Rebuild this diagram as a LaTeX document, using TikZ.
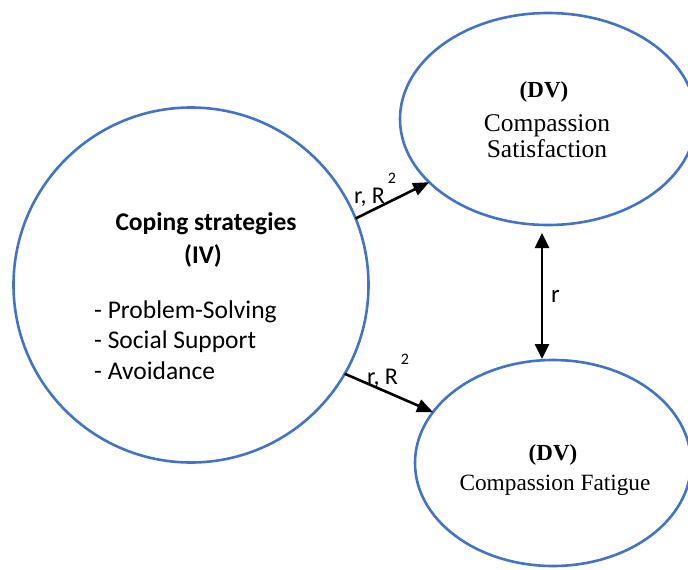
\documentclass[tikz,border=0pt]{standalone}
\usepackage{fontspec}
\setmainfont{Liberation Serif}
\newfontfamily\calib{Carlito}
\usetikzlibrary{shapes.geometric,arrows.meta}
\definecolor{ellblue}{RGB}{68,114,196}
\begin{document}
\begin{tikzpicture}[x=1pt,y=-1pt,
  var/.style={draw=ellblue,line width=2.6pt,ellipse,inner sep=0pt,outer sep=0pt},
  conn/.style={line width=2.6pt,-{Triangle[length=16pt,width=13pt]}},
  dconn/.style={line width=2.6pt,{Triangle[length=15pt,width=14pt]}-{Triangle[length=15pt,width=14pt]}},
  dvlab/.style={font=\fontsize{23}{26}\selectfont\bfseries,anchor=base,inner sep=0pt},
  serlab/.style={font=\fontsize{25.5}{28}\selectfont,anchor=base,inner sep=0pt},
  serlabb/.style={font=\fontsize{23.3}{26}\selectfont,anchor=base,inner sep=0pt},
  sanshead/.style={font=\calib\fontsize{25.5}{28}\selectfont\bfseries,anchor=base,inner sep=0pt},
  sanslist/.style={font=\calib\fontsize{25.5}{28}\selectfont,anchor=base west,inner sep=0pt},
  lab/.style={font=\calib\fontsize{24}{27}\selectfont,anchor=base west,inner sep=0pt}]
\path[use as bounding box,clip] (0,0) rectangle (688,570);
% variables
\node[var,minimum width=355pt,minimum height=355pt] (iv) at (191,285) {};
\node[var,minimum width=296pt,minimum height=212pt] (cs) at (548,119) {};
\node[var,minimum width=276pt,minimum height=206pt] (cf) at (553,463) {};
% texts
\node[dvlab] (csdv) at (544,97) {(DV)};
\node[serlab] (cs1) at (547,131) {Compassion};
\node[serlab] (cs2) at (547,157) {Satisfaction};
\node[dvlab] (cfdv) at (553,460) {(DV)};
\node[serlabb] (cf1) at (555,490) {Compassion Fatigue};
\node[sanshead] (ivh) at (206,230) {Coping strategies};
\node[sanshead] (ivt) at (203,263) {(IV)};
\node[sanslist] (ivl1) at (94,318) {- Problem-Solving};
\node[sanslist] (ivl2) at (94,348) {- Social Support};
\node[sanslist] (ivl3) at (94,379) {- Avoidance};
% connectors
\draw[conn] (iv.22) -- (cs.208);
\draw[conn] (iv.-30) -- (cf.157);
\draw[dconn] ([xshift=-6pt,yshift=-8pt]cs.south) -- ([xshift=-11pt,yshift=1pt]cf.north);
% labels
\node[lab] (l1) at (354,203) {r, R\hspace{3pt}\raisebox{20pt}{\fontsize{16}{16}\selectfont 2}};
\node[lab] (l2) at (367,384) {r, R\hspace{3pt}\raisebox{20pt}{\fontsize{16}{16}\selectfont 2}};
\node[lab,font=\calib\fontsize{25}{28}\selectfont] (l3) at (551,302) {r};
\end{tikzpicture}
\end{document}
